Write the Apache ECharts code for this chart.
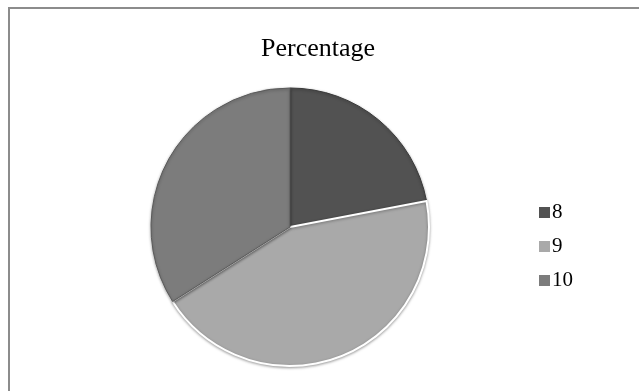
<!DOCTYPE html>
<html>
<head>
<meta charset="utf-8">
<script src="https://cdn.jsdelivr.net/npm/echarts@6/dist/echarts.min.js"></script>
<style>
  html, body { margin: 0; padding: 0; background: #fff; }
  #chart { width: 639px; height: 391px; }
</style>
</head>
<body>
<div id="chart"></div>
<script>
// Grade categories and their share of the total
const categories = ['8', '9', '10'];
const values = [22, 44, 34];
const sliceColors = ['#525252', '#a9a9a9', '#7c7c7c'];
const sliceBorders = ['#3a3a3a', '#ffffff', '#5a5a5a'];

const chart = echarts.init(document.getElementById('chart'));

const seriesData = categories.map((name, i) => ({
  name: name,
  value: values[i],
  itemStyle: {
    color: sliceColors[i],
    borderColor: sliceBorders[i],
    borderWidth: i === 1 ? 2 : 1
  }
}));

chart.setOption({
  animation: false,
  title: {
    text: 'Percentage',
    left: 313,
    textAlign: 'center',
    top: 31,
    textStyle: {
      fontFamily: 'Liberation Serif',
      fontWeight: 'normal',
      fontSize: 26,
      color: '#000'
    }
  },
  legend: {
    orient: 'vertical',
    left: 534,
    top: 197,
    itemWidth: 11,
    itemHeight: 11,
    itemGap: 13,
    icon: 'rect',
    itemStyle: { borderWidth: 0 },
    textStyle: {
      fontFamily: 'Liberation Serif',
      fontSize: 21,
      color: '#000',
      padding: [0, 0, 0, -3]
    },
    data: categories
  },
  graphic: [{
    type: 'rect',
    shape: { x: 9, y: 8, width: 700, height: 500 },
    style: { fill: 'none', stroke: '#8c8c8c', lineWidth: 2 },
    silent: true
  }],
  series: [{
    type: 'pie',
    center: [290, 227],
    radius: 139,
    startAngle: 90,
    clockwise: true,
    label: { show: false },
    labelLine: { show: false },
    emphasis: { disabled: true },
    itemStyle: {
      shadowBlur: 3,
      shadowColor: 'rgba(0,0,0,0.35)',
      shadowOffsetY: 1
    },
    data: seriesData
  }]
});
</script>
</body>
</html>
